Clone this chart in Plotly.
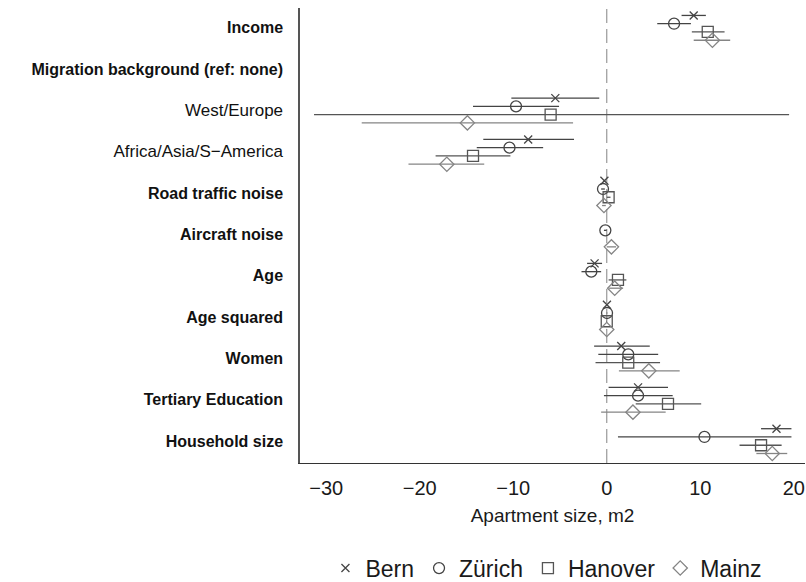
import plotly.graph_objects as go

# Regression terms, top to bottom
terms = [
    "<b>Income</b>",
    "<b>Migration background (ref: none)</b>",
    "<span style='font-size:17px'>West/Europe</span>",
    "<span style='font-size:17px'>Africa/Asia/S\u2212America</span>",
    "<b>Road traffic noise</b>",
    "<b>Aircraft noise</b>",
    "<b>Age</b>",
    "<b>Age squared</b>",
    "<b>Women</b>",
    "<b>Tertiary Education</b>",
    "<b>Household size</b>",
]

cities = ["Bern", "Zürich", "Hanover", "Mainz"]

# Coefficients and 95% confidence bounds per city (None = not in model)
bern_est = [9.3, None, -5.5, -8.4, -0.25, None, -1.3, 0.02, 1.55, 3.35, 18.15]
bern_lo = [8.0, None, -10.2, -13.2, -0.35, None, -2.1, 0.0, -1.35, 0.2, 16.5]
bern_hi = [10.6, None, -0.8, -3.5, -0.15, None, -0.5, 0.04, 4.6, 6.55, 19.75]

zurich_est = [7.2, None, -9.7, -10.4, -0.4, -0.15, -1.65, 0.03, 2.3, 3.35, 10.45]
zurich_lo = [5.4, None, -14.3, -13.9, -0.6, -0.3, -2.7, 0.0, -0.9, -0.3, 1.2]
zurich_hi = [9.0, None, -5.1, -6.8, -0.2, 0.0, -0.6, 0.06, 5.5, 7.05, 19.75]

hanover_est = [10.8, None, -6.0, -14.3, 0.2, None, 1.2, 0.0, 2.3, 6.55, 16.5]
hanover_lo = [9.1, None, -31.3, -18.3, 0.0, None, 0.2, -0.03, -1.2, 3.1, 14.2]
hanover_hi = [12.6, None, 19.5, -10.3, 0.4, None, 2.1, 0.03, 5.7, 10.1, 18.7]

mainz_est = [11.3, None, -14.9, -17.1, -0.3, 0.5, 0.85, 0.0, 4.5, 2.8, 17.7]
mainz_lo = [9.3, None, -26.2, -21.2, -0.5, 0.0, 0.25, -0.02, 1.3, -0.6, 16.0]
mainz_hi = [13.2, None, -3.6, -13.1, -0.1, 1.0, 1.75, 0.02, 7.8, 6.3, 19.3]

x_ticks = [-30, -20, -10, 0, 10, 20]

series = [
    (cities[0], bern_est, bern_lo, bern_hi, "x-thin-open", 8, "#444444", -0.3),
    (cities[1], zurich_est, zurich_lo, zurich_hi, "circle-open", 11, "#444444", -0.1),
    (cities[2], hanover_est, hanover_lo, hanover_hi, "square-open", 11, "#555555", 0.1),
    (cities[3], mainz_est, mainz_lo, mainz_hi, "diamond-open", 11, "#858585", 0.3),
]

fig = go.Figure()

for name, est, lo, hi, symbol, size, color, offset in series:
    xs, ys, plus, minus = [], [], [], []
    for i, v in enumerate(est):
        if v is None:
            continue
        xs.append(v)
        ys.append(i + offset)
        plus.append(hi[i] - v)
        minus.append(v - lo[i])
    fig.add_trace(go.Scatter(
        x=xs, y=ys, mode="markers", name=name,
        marker=dict(symbol=symbol, size=size, color=color,
                    line=dict(width=1.3, color=color)),
        error_x=dict(type="data", symmetric=False, array=plus,
                     arrayminus=minus, thickness=1.3, width=0, color=color),
    ))

# Reference line at zero
fig.add_shape(type="line", x0=0, x1=0, y0=0, y1=1, xref="x", yref="paper",
              line=dict(color="#999999", width=1.2, dash="14px,6px"), layer="below")

fig.update_layout(
    width=806, height=582,
    margin=dict(l=300, r=1, t=8, b=119, autoexpand=False),
    plot_bgcolor="white", paper_bgcolor="white",
    font=dict(family="Liberation Sans, Arial, sans-serif", color="#111111"),
    showlegend=True,
    legend=dict(orientation="h", xref="paper", x=0.488, xanchor="center",
                yref="paper", y=-0.231, yanchor="middle",
                font=dict(size=23, color="#1a1a1a"), itemwidth=30, tracegroupgap=0),
    xaxis=dict(range=[-32.8, 21.2], tickvals=x_ticks, showgrid=False,
               zeroline=False, showline=True, linecolor="#333333", linewidth=1.3,
               ticks="", tickfont=dict(size=20, color="#1a1a1a"),
               ticklabelstandoff=7,
               title=dict(text="Apartment size, m2", font=dict(size=19, color="#1a1a1a"),
                          standoff=10)),
    yaxis=dict(range=[10.53, -0.48], tickvals=list(range(len(terms))), ticktext=terms,
               showgrid=False, zeroline=False, showline=True, linecolor="#555555",
               linewidth=1.5, ticks="", tickfont=dict(size=16, color="#111111"),
               ticklabelstandoff=12),
)

fig.write_html("out.html")
